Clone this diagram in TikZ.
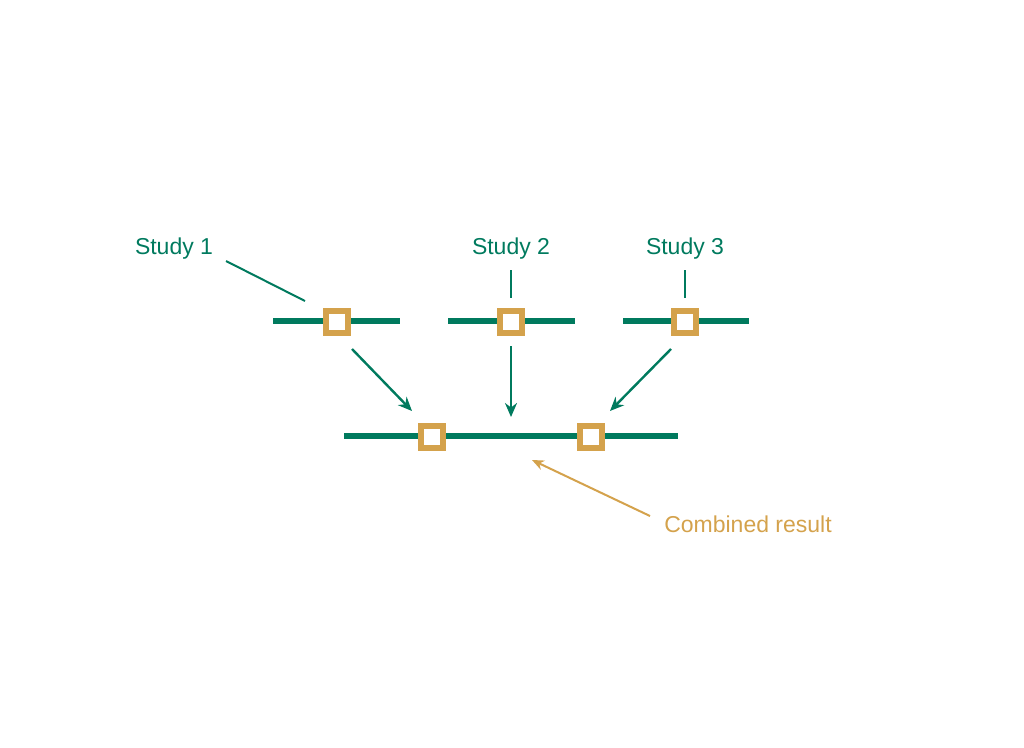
\documentclass[tikz,border=0pt]{standalone}
\usepackage{fontspec}
\setmainfont{Liberation Sans}
\usetikzlibrary{arrows.meta}
\definecolor{grn}{HTML}{007A5E}
\definecolor{gld}{HTML}{D4A24C}
\begin{document}
\begin{tikzpicture}[x=1pt,y=-1pt,
  bar/.style={draw=grn,line width=5.5pt},
  est/.style={draw=gld,fill=white,line width=6pt,minimum size=22pt,inner sep=0pt,rectangle},
  lab/.style={text=grn,font=\fontsize{23}{27}\selectfont,inner sep=0pt},
  glab/.style={text=gld,font=\fontsize{23}{27}\selectfont,inner sep=0pt},
  lead/.style={draw=grn,line width=2pt},
  arr/.style={draw=grn,line width=2.4pt,-{Stealth[length=14pt,width=12pt]}},
  garr/.style={draw=gld,line width=2pt,-{Stealth[length=12pt,width=10pt]}}]
\useasboundingbox (0,0) rectangle (1024,747);
% study lines
\coordinate (a1) at (273,321); \coordinate (b1) at (400,321);
\coordinate (a2) at (448,321); \coordinate (b2) at (575,321);
\coordinate (a3) at (623,321); \coordinate (b3) at (749,321);
\coordinate (a4) at (344,436); \coordinate (b4) at (678,436);
\draw[bar] (a1) -- (b1);
\draw[bar] (a2) -- (b2);
\draw[bar] (a3) -- (b3);
\draw[bar] (a4) -- (b4);
\node[est] (s1) at (337,321.5) {};
\node[est] (s2) at (511,321.5) {};
\node[est] (s3) at (685,321.5) {};
\node[est] (c1) at (432,436.5) {};
\node[est] (c2) at (591,436.5) {};
% labels
\node[lab] (t1) at (174,249) {Study 1};
\node[lab] (t2) at (511,249) {Study 2};
\node[lab] (t3) at (685,249) {Study 3};
\node[glab] (t4) at (748,524) {Combined result};
% leaders
\coordinate (l1a) at (226,261); \coordinate (l1b) at (305,301);
\coordinate (l2a) at (511,270); \coordinate (l2b) at (511,298);
\coordinate (l3a) at (685,270); \coordinate (l3b) at (685,298);
\draw[lead] (l1a) -- (l1b);
\draw[lead] (l2a) -- (l2b);
\draw[lead] (l3a) -- (l3b);
% arrows
\coordinate (p1) at (352,349); \coordinate (q1) at (412,411);
\coordinate (p2) at (511,346); \coordinate (q2) at (511,417);
\coordinate (p3) at (671,349); \coordinate (q3) at (610,411);
\draw[arr] (p1) -- (q1);
\draw[arr] (p2) -- (q2);
\draw[arr] (p3) -- (q3);
\coordinate (g1) at (650,516); \coordinate (g2) at (532,460);
\draw[garr] (g1) -- (g2);
\end{tikzpicture}
\end{document}
